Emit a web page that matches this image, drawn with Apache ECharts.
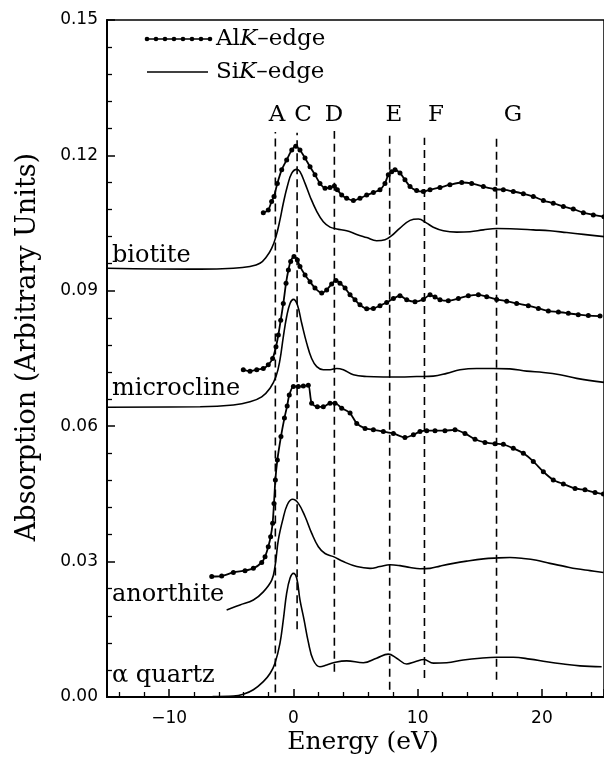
<!DOCTYPE html>
<html>
<head>
<meta charset="utf-8">
<script src="https://cdn.jsdelivr.net/npm/echarts@6.0.0/dist/echarts.min.js"></script>
<style>html,body{margin:0;padding:0;background:#fff;}#c{width:604px;height:758px;}</style>
</head>
<body>
<div id="c"></div>
<script>
// ---- data: [energy (eV), absorption] ----
var biotiteAl = [[-2.42,0.1073],[-2.02,0.1079],[-1.75,0.1098],[-1.56,0.1109],[-1.29,0.1138],[-0.94,0.1168],[-0.54,0.1190],[-0.13,0.1212],[0.19,0.1220],[0.53,0.1212],[0.94,0.1194],[1.34,0.1175],[1.74,0.1157],[2.14,0.1138],[2.55,0.1127],[2.95,0.1129],[3.30,0.1132],[3.54,0.1124],[3.89,0.1112],[4.29,0.1105],[4.83,0.1100],[5.36,0.1105],[5.90,0.1112],[6.44,0.1118],[6.97,0.1124],[7.37,0.1138],[7.64,0.1157],[7.91,0.1164],[8.18,0.1168],[8.58,0.1161],[8.98,0.1146],[9.39,0.1131],[9.92,0.1122],[10.46,0.1120],[11.0,0.1124],[11.8,0.1129],[12.6,0.1135],[13.55,0.1140],[14.35,0.1138],[15.29,0.1131],[16.23,0.1125],[16.9,0.1124],[17.7,0.1120],[18.51,0.1115],[19.31,0.1109],[20.12,0.1100],[20.92,0.1094],[21.73,0.1087],[22.53,0.1081],[23.34,0.1073],[24.14,0.1068],[25.0,0.1064]];
var biotiteSi = [[-15,0.0950],[-7.5,0.0948],[-4.83,0.0950],[-3.49,0.0954],[-2.69,0.0961],[-2.15,0.0976],[-1.75,0.0994],[-1.40,0.1020],[-1.08,0.1057],[-0.81,0.1094],[-0.49,0.1131],[-0.14,0.1160],[0.27,0.1169],[0.53,0.1164],[0.94,0.1138],[1.34,0.1109],[1.88,0.1076],[2.41,0.1053],[2.95,0.1041],[3.49,0.1037],[4.29,0.1033],[5.10,0.1025],[5.90,0.1018],[6.70,0.1011],[7.37,0.1013],[7.91,0.1022],[8.58,0.1039],[9.39,0.1056],[10.06,0.1059],[10.73,0.1050],[11.26,0.1041],[12.07,0.1033],[13.14,0.1030],[14.22,0.1031],[15.29,0.1035],[16.36,0.1038],[17.97,0.1037],[19.31,0.1035],[20.65,0.1033],[22.0,0.1029],[23.34,0.1025],[25.0,0.1020]];
var microclineAl = [[-4.03,0.0725],[-3.49,0.0722],[-2.95,0.0725],[-2.42,0.0728],[-2.02,0.0736],[-1.67,0.0750],[-1.40,0.0776],[-1.21,0.0802],[-1.02,0.0835],[-0.81,0.0872],[-0.59,0.0917],[-0.40,0.0946],[-0.22,0.0965],[0.05,0.0976],[0.32,0.0968],[0.53,0.0954],[0.94,0.0935],[1.34,0.0920],[1.74,0.0906],[2.28,0.0895],[2.68,0.0902],[3.08,0.0915],[3.43,0.0923],[3.75,0.0917],[4.16,0.0906],[4.56,0.0891],[4.96,0.0880],[5.36,0.0869],[5.90,0.0860],[6.44,0.0861],[6.97,0.0867],[7.51,0.0874],[8.05,0.0883],[8.58,0.0889],[9.12,0.0880],[9.79,0.0876],[10.46,0.0881],[11.0,0.0891],[11.40,0.0886],[11.80,0.0880],[12.47,0.0878],[13.28,0.0883],[14.08,0.0889],[14.89,0.0891],[15.56,0.0887],[16.36,0.0881],[17.17,0.0877],[17.97,0.0872],[18.91,0.0867],[19.72,0.0861],[20.52,0.0855],[21.33,0.0853],[22.13,0.0850],[22.93,0.0847],[23.74,0.0845],[24.68,0.0844]];
var microclineSi = [[-15,0.0642],[-7.5,0.0643],[-4.83,0.0647],[-3.49,0.0654],[-2.55,0.0665],[-1.88,0.0684],[-1.40,0.0710],[-1.08,0.0747],[-0.81,0.0798],[-0.54,0.0843],[-0.27,0.0872],[0.0,0.0881],[0.32,0.0869],[0.67,0.0828],[1.07,0.0784],[1.47,0.0750],[1.88,0.0732],[2.41,0.0725],[2.95,0.0725],[3.49,0.0728],[4.02,0.0725],[4.83,0.0714],[5.90,0.0710],[7.24,0.0709],[8.58,0.0709],[9.92,0.0710],[11.26,0.0711],[12.34,0.0717],[13.41,0.0725],[14.75,0.0728],[16.09,0.0728],[17.43,0.0727],[18.78,0.0722],[20.12,0.0719],[21.46,0.0714],[22.80,0.0706],[25.0,0.0697]];
var anorthiteAl = [[-6.57,0.0267],[-5.77,0.0268],[-4.83,0.0276],[-3.89,0.0280],[-3.22,0.0285],[-2.55,0.0298],[-2.28,0.0311],[-2.02,0.0333],[-1.83,0.0355],[-1.67,0.0385],[-1.56,0.0429],[-1.45,0.0481],[-1.29,0.0525],[-1.0,0.0577],[-0.72,0.0618],[-0.5,0.0645],[-0.33,0.0669],[0.0,0.0688],[0.40,0.0688],[0.80,0.0689],[1.20,0.0691],[1.47,0.0651],[1.93,0.0643],[2.41,0.0643],[2.95,0.0651],[3.35,0.0651],[3.89,0.0640],[4.56,0.0629],[5.10,0.0606],[5.77,0.0595],[6.44,0.0592],[7.24,0.0588],[8.05,0.0584],[8.98,0.0575],[9.66,0.0581],[10.19,0.0588],[10.73,0.0590],[11.40,0.0590],[12.20,0.0590],[13.01,0.0592],[13.81,0.0584],[14.62,0.0571],[15.42,0.0564],[16.23,0.0561],[16.9,0.0560],[17.70,0.0551],[18.51,0.0540],[19.31,0.0522],[20.12,0.0499],[20.92,0.0481],[21.73,0.0472],[22.67,0.0462],[23.47,0.0459],[24.28,0.0453],[24.95,0.0450]];
var anorthiteSi = [[-5.37,0.0193],[-4.30,0.0204],[-3.22,0.0215],[-2.42,0.0233],[-1.74,0.0259],[-1.48,0.0289],[-1.21,0.0348],[-0.86,0.0392],[-0.49,0.0426],[-0.06,0.0438],[0.40,0.0429],[0.94,0.0400],[1.47,0.0363],[2.01,0.0333],[2.55,0.0318],[3.22,0.0311],[4.02,0.0300],[5.10,0.0289],[6.17,0.0285],[6.97,0.0289],[7.78,0.0293],[8.58,0.0291],[9.39,0.0287],[10.19,0.0284],[11.0,0.0285],[11.80,0.0290],[12.87,0.0296],[13.95,0.0301],[15.29,0.0306],[16.36,0.0308],[17.43,0.0309],[18.51,0.0307],[19.58,0.0303],[20.65,0.0296],[21.73,0.0290],[22.80,0.0284],[23.87,0.0280],[24.95,0.0276]];
var quartzSi = [[-6.5,0.0001],[-4.83,0.0002],[-4.03,0.0006],[-3.22,0.0016],[-2.42,0.0034],[-1.88,0.0052],[-1.48,0.0075],[-1.08,0.0119],[-0.81,0.0171],[-0.54,0.0230],[-0.27,0.0263],[0.0,0.0274],[0.27,0.0263],[0.53,0.0215],[0.86,0.0171],[1.20,0.0122],[1.60,0.0082],[2.14,0.0067],[2.68,0.0071],[3.22,0.0076],[4.29,0.0080],[5.63,0.0076],[6.70,0.0086],[7.64,0.0095],[8.31,0.0086],[9.12,0.0073],[9.79,0.0078],[10.51,0.0083],[11.26,0.0075],[12.34,0.0076],[13.68,0.0082],[15.02,0.0086],[16.36,0.0088],[17.70,0.0088],[19.04,0.0084],[20.39,0.0078],[21.73,0.0073],[23.07,0.0069],[24.81,0.0067]];

// peak marker lines
var peakNames = ['A','C','D','E','F','G'];
var peakX = [-1.45, 0.3, 3.3, 7.75, 10.55, 16.35];
var peakTop = [0.1252, 0.1250, 0.1254, 0.1245, 0.1239, 0.1241];
var peakBottom = [0.001, 0.015, 0.0056, 0.0016, 0.0042, 0.0038];
var peakLabelX = [-1.32, 0.77, 3.27, 8.1, 11.48, 17.68];
var peakLabelY = 0.129;

// sample labels
var sampleNames = ['biotite','microcline','anorthite','\u03b1 quartz'];
var sampleLabelX = -14.6;
var sampleLabelY = [0.0978, 0.0683, 0.0226, 0.0047];

// axis range
var xMin = -15, xMax = 25;
var yMin = 0, yMax = 0.15, yStep = 0.03;

var SERIF = '"DejaVu Serif", serif';
var SANS = '"DejaVu Sans", sans-serif';

var chart = echarts.init(document.getElementById('c'), null, {renderer: 'canvas'});

function alSeries(data) {
  return {type:'line', data:data, smooth:0.25, symbol:'circle', symbolSize:5, showSymbol:true,
    lineStyle:{color:'#000', width:1.8}, itemStyle:{color:'#000'}, z:3, silent:true};
}
function siSeries(data) {
  return {type:'line', data:data, smooth:0.4, symbol:'none',
    lineStyle:{color:'#000', width:1.6}, z:3, silent:true};
}
function textSeries(points, names, size, align) {
  return {type:'custom', silent:true, z:4, clip:false, data:points,
    renderItem:function (params, api) {
      var p = api.coord([api.value(0), api.value(1)]);
      return {type:'text', x:p[0], y:p[1], style:{text:names[params.dataIndex], fill:'#000',
        fontFamily:SERIF, fontSize:size, align:align, verticalAlign:'middle'}};
    }};
}

var series = [
  alSeries(biotiteAl), siSeries(biotiteSi),
  alSeries(microclineAl), siSeries(microclineSi),
  alSeries(anorthiteAl), siSeries(anorthiteSi),
  siSeries(quartzSi)
];
peakX.forEach(function (x, i) {
  series.push({type:'line', data:[[x, peakBottom[i]], [x, peakTop[i]]], symbol:'none',
    lineStyle:{color:'#000', width:1.6, type:[8,5]}, z:2, silent:true});
});
series.push(textSeries(peakLabelX.map(function (x) { return [x, peakLabelY]; }), peakNames, 23, 'center'));
series.push(textSeries(sampleLabelY.map(function (y) { return [sampleLabelX, y]; }), sampleNames, 24, 'left'));

var legendDots = [];
for (var k = 0; k < 8; k++) {
  legendDots.push({type:'circle', shape:{cx:147 + k*9, cy:39, r:2.3}, style:{fill:'#000'}, silent:true});
}
var richStyle = {a:{fontFamily:SERIF, fontSize:23, color:'#000'}, b:{fontFamily:SERIF, fontSize:23, fontStyle:'italic', color:'#000'}};

chart.setOption({
  animation:false,
  backgroundColor:'#fff',
  grid:{left:107, right:0, top:20, bottom:61, show:true, borderColor:'#000', borderWidth:1.5, backgroundColor:'transparent'},
  xAxis:{
    type:'value', min:xMin, max:xMax, splitNumber:4,
    axisLine:{show:true, onZero:false, lineStyle:{color:'#000', width:2}},
    axisTick:{show:true, inside:true, length:8, lineStyle:{color:'#000', width:1.5}},
    minorTick:{show:true, splitNumber:5, length:5, lineStyle:{color:'#000', width:1.3}},
    splitLine:{show:false},
    axisLabel:{showMinLabel:false, showMaxLabel:false, margin:13, color:'#000', fontFamily:SANS, fontSize:17,
      formatter:function (v) { return v < 0 ? '\u2212' + Math.abs(v) : String(v); }}
  },
  yAxis:{
    type:'value', min:yMin, max:yMax, interval:yStep,
    axisLine:{show:true, onZero:false, lineStyle:{color:'#000', width:2}},
    axisTick:{show:true, inside:true, length:8, lineStyle:{color:'#000', width:1.5}},
    minorTick:{show:true, splitNumber:5, length:5, lineStyle:{color:'#000', width:1.3}},
    splitLine:{show:false},
    axisLabel:{margin:9, color:'#000', fontFamily:SANS, fontSize:17,
      formatter:function (v) { return v.toFixed(2); }}
  },
  graphic:[
    {type:'text', x:363, y:742, silent:true, style:{text:'Energy (eV)', fill:'#000', fontFamily:SERIF, fontSize:25, align:'center', verticalAlign:'middle'}},
    {type:'text', x:28, y:347, rotation:Math.PI/2, silent:true, style:{text:'Absorption (Arbitrary Units)', fill:'#000', fontFamily:SERIF, fontSize:27, align:'center', verticalAlign:'middle'}},
    {type:'line', shape:{x1:145, y1:39, x2:211, y2:39}, style:{stroke:'#000', lineWidth:1.5}, silent:true},
    {type:'line', shape:{x1:147, y1:72, x2:208, y2:72}, style:{stroke:'#000', lineWidth:1.5}, silent:true}
  ].concat(legendDots).concat([
    {type:'text', x:216, y:39, silent:true, style:{text:'{a|Al}{b|K}{a|\u2013edge}', verticalAlign:'middle', align:'left', rich:richStyle}},
    {type:'text', x:216, y:72, silent:true, style:{text:'{a|Si}{b|K}{a|\u2013edge}', verticalAlign:'middle', align:'left', rich:richStyle}}
  ]),
  series:series
});
</script>
</body>
</html>
